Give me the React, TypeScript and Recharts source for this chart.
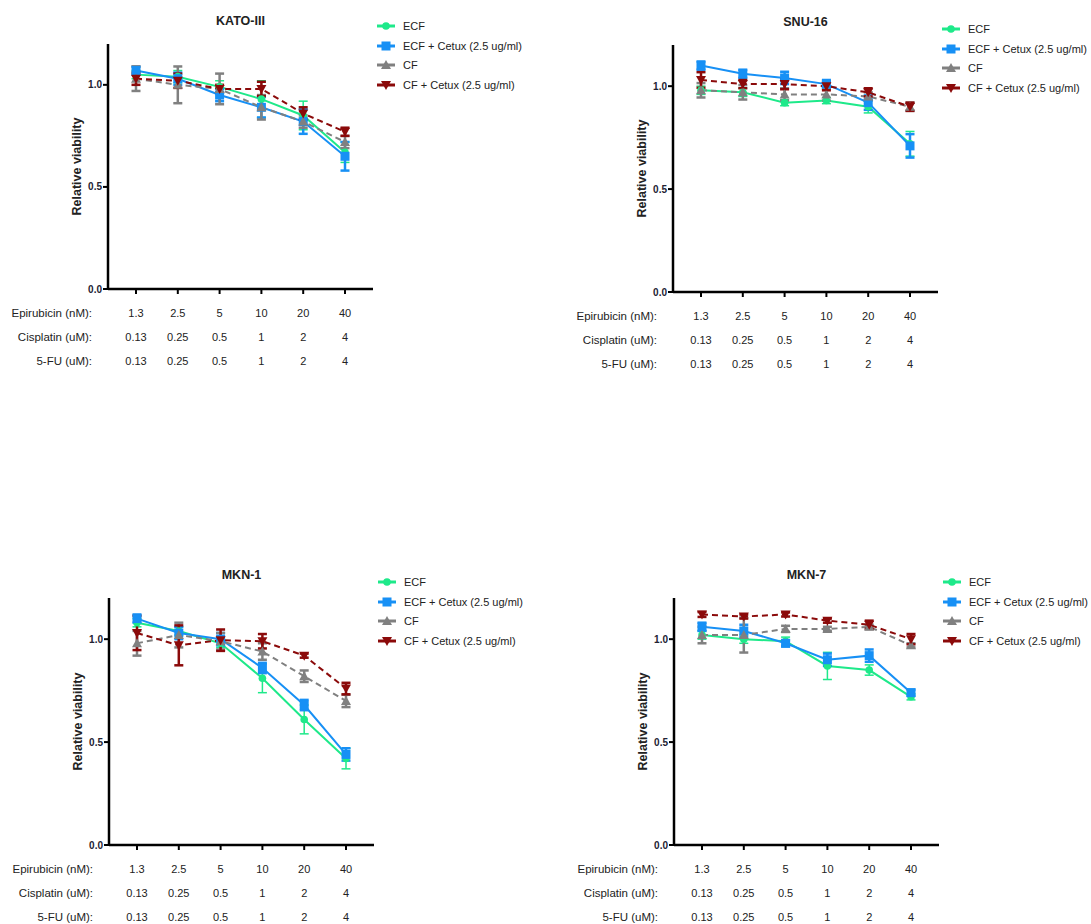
import React from "react";
import { LineChart, Line, XAxis, YAxis, ErrorBar } from "recharts";

// dose rows under each x-axis
const epirubicin = ["1.3", "2.5", "5", "10", "20", "40"];
const cisplatin = ["0.13", "0.25", "0.5", "1", "2", "4"];
const fluorouracil = ["0.13", "0.25", "0.5", "1", "2", "4"];
const rowLabels = ["Epirubicin (nM):", "Cisplatin (uM):", "5-FU (uM):"];

const seriesNames = ["ECF", "ECF + Cetux (2.5 ug/ml)", "CF", "CF + Cetux (2.5 ug/ml)"];

// KATO-III
const katoEcf = [1.05, 1.04, 0.99, 0.93, 0.85, 0.67];
const katoEcfErr = [0.02, 0.03, 0.03, 0.09, 0.07, 0.05];
const katoEcfCetux = [1.07, 1.03, 0.95, 0.89, 0.82, 0.65];
const katoEcfCetuxErr = [0.02, 0.03, 0.03, 0.05, 0.06, 0.07];
const katoCf = [1.03, 1.0, 0.98, 0.89, 0.82, 0.72];
const katoCfErr = [0.06, 0.09, 0.075, 0.06, 0.03, 0.03];
const katoCfCetux = [1.03, 1.02, 0.98, 0.98, 0.86, 0.77];
const katoCfCetuxErr = [0.03, 0.035, 0.02, 0.035, 0.03, 0.02];

// SNU-16
const snuEcf = [0.98, 0.97, 0.92, 0.93, 0.9, 0.72];
const snuEcfErr = [0.02, 0.02, 0.015, 0.015, 0.03, 0.06];
const snuEcfCetux = [1.1, 1.06, 1.04, 1.01, 0.92, 0.71];
const snuEcfCetuxErr = [0.02, 0.02, 0.03, 0.02, 0.035, 0.057];
const snuCf = [0.98, 0.97, 0.96, 0.96, 0.95, 0.9];
const snuCfErr = [0.035, 0.035, 0.03, 0.03, 0.02, 0.02];
const snuCfCetux = [1.03, 1.01, 1.01, 1.0, 0.97, 0.9];
const snuCfCetuxErr = [0.038, 0.02, 0.025, 0.02, 0.02, 0.02];

// MKN-1
const mkn1Ecf = [1.08, 1.04, 0.98, 0.81, 0.61, 0.42];
const mkn1EcfErr = [0.02, 0.02, 0.02, 0.07, 0.07, 0.05];
const mkn1EcfCetux = [1.1, 1.03, 1.0, 0.86, 0.68, 0.44];
const mkn1EcfCetuxErr = [0.02, 0.03, 0.03, 0.025, 0.025, 0.03];
const mkn1Cf = [0.98, 1.02, 0.99, 0.94, 0.82, 0.7];
const mkn1CfErr = [0.06, 0.06, 0.04, 0.04, 0.028, 0.03];
const mkn1CfCetux = [1.03, 0.97, 0.995, 0.99, 0.92, 0.76];
const mkn1CfCetuxErr = [0.083, 0.097, 0.052, 0.035, 0.01, 0.028];

// MKN-7
const mkn7Ecf = [1.02, 1.0, 0.99, 0.87, 0.85, 0.72];
const mkn7EcfErr = [0.02, 0.02, 0.02, 0.066, 0.025, 0.015];
const mkn7EcfCetux = [1.06, 1.04, 0.98, 0.9, 0.92, 0.74];
const mkn7EcfCetuxErr = [0.02, 0.03, 0.015, 0.03, 0.03, 0.015];
const mkn7Cf = [1.02, 1.02, 1.05, 1.05, 1.06, 0.97];
const mkn7CfErr = [0.04, 0.085, 0.015, 0.01, 0.01, 0.01];
const mkn7CfCetux = [1.12, 1.11, 1.12, 1.09, 1.07, 1.0];
const mkn7CfCetuxErr = [0.012, 0.01, 0.01, 0.01, 0.02, 0.025];

const FONT = '"Liberation Sans", Arial, sans-serif';
const GREEN = "#1ee98a";
const BLUE = "#1790f5";
const GRAY = "#808080";
const RED = "#8b0a0a";

type Shape = "circle" | "square" | "up" | "down";

const styles = [
  { key: "ecf", color: GREEN, shape: "circle" as Shape, dash: undefined, errW: 1.5 },
  { key: "ecfCetux", color: BLUE, shape: "square" as Shape, dash: undefined, errW: 2.5 },
  { key: "cf", color: GRAY, shape: "up" as Shape, dash: "6 4", errW: 2.5 },
  { key: "cfCetux", color: RED, shape: "down" as Shape, dash: "6 4", errW: 2.5 },
];

const buildRows = (series: number[][]) =>
  epirubicin.map((epi, i) => ({
    epi,
    ecf: series[0][i],
    ecfErr: series[1][i],
    ecfCetux: series[2][i],
    ecfCetuxErr: series[3][i],
    cf: series[4][i],
    cfErr: series[5][i],
    cfCetux: series[6][i],
    cfCetuxErr: series[7][i],
  }));

function Marker({ cx, cy, shape, color }: { cx: number; cy: number; shape: Shape; color: string }) {
  if (shape === "circle") return <circle cx={cx} cy={cy} r={3.8} fill={color} />;
  if (shape === "square") return <rect x={cx - 4.5} y={cy - 4.5} width={9} height={9} fill={color} />;
  if (shape === "up")
    return <path d={`M${cx},${cy - 5}L${cx + 5},${cy + 4}L${cx - 5},${cy + 4}Z`} fill={color} />;
  return <path d={`M${cx},${cy + 5}L${cx + 5},${cy - 4}L${cx - 5},${cy - 4}Z`} fill={color} />;
}

function DoseTick(props: any) {
  const { x, y, payload } = props;
  const i = epirubicin.indexOf(payload.value);
  const rows = [epirubicin[i], cisplatin[i], fluorouracil[i]];
  return (
    <g fontFamily={FONT} fontSize={11} fill="#222">
      {rows.map((t, r) => (
        <text key={r} x={x} y={y + 21 + r * 24} textAnchor="middle">
          {t}
        </text>
      ))}
      {i === 0 &&
        rowLabels.map((t, r) => (
          <text key={"l" + r} x={x - 44} y={y + 21 + r * 24} textAnchor="end" fontSize={11.5}>
            {t}
          </text>
        ))}
    </g>
  );
}

function Legend({ left, top }: { left: number; top: number }) {
  return (
    <div style={{ position: "absolute", left, top, fontFamily: FONT, fontSize: 11, color: "#222" }}>
      {styles.map((s, i) => (
        <div key={s.key} style={{ height: 19.7, display: "flex", alignItems: "center" }}>
          <svg width={24} height={12} style={{ marginRight: 3 }}>
            <line x1={1} y1={6} x2={19} y2={6} stroke={s.color} strokeWidth={3} />
            <Marker cx={10} cy={6} shape={s.shape} color={s.color} />
          </svg>
          <span>{seriesNames[i]}</span>
        </div>
      ))}
    </div>
  );
}

type PanelProps = {
  title: string;
  rows: ReturnType<typeof buildRows>;
  plotLeft: number;
  plotTop: number;
  plotHeight: number;
  legendTop: number;
};

function Panel({ title, rows, plotLeft, plotTop, plotHeight, legendTop }: PanelProps) {
  const plotWidth = 265;
  return (
    <>
      <div
        style={{
          position: "absolute",
          left: plotLeft,
          width: plotWidth,
          top: plotTop - 30,
          textAlign: "center",
          fontFamily: FONT,
          fontWeight: "bold",
          fontSize: 12.5,
          color: "#222",
        }}
      >
        {title}
      </div>
      <div style={{ position: "absolute", left: plotLeft - 108, top: plotTop - 44 }}>
        <LineChart
          width={560}
          height={44 + plotHeight + 91}
          data={rows}
          margin={{ top: 44, left: 68, right: 187, bottom: 11 }}
        >
          <XAxis
            dataKey="epi"
            padding={{ left: 28, right: 28 }}
            height={80}
            interval={0}
            tickSize={5}
            tickMargin={2}
            axisLine={{ stroke: "#000", strokeWidth: 2.5 }}
            tickLine={{ stroke: "#000", strokeWidth: 2 }}
            tick={(p: any) => <DoseTick {...p} />}
          />
          <YAxis
            domain={[0, 1.2]}
            ticks={[0, 0.5, 1]}
            width={40}
            tickSize={5}
            tickMargin={1}
            tickFormatter={(v: number) => v.toFixed(1)}
            axisLine={{ stroke: "#000", strokeWidth: 2.5 }}
            tickLine={{ stroke: "#000", strokeWidth: 2 }}
            tick={{ fontFamily: FONT, fontSize: 10, fontWeight: "bold", fill: "#223" }}
            label={{
              value: "Relative viability",
              angle: -90,
              position: "insideLeft",
              offset: 9,
              style: { textAnchor: "middle", fontFamily: FONT, fontSize: 12.5, fontWeight: "bold", fill: "#222" },
            }}
          />
          {styles.map((s) => (
            <Line
              key={s.key}
              dataKey={s.key}
              type="linear"
              stroke={s.color}
              strokeWidth={2}
              strokeDasharray={s.dash}
              isAnimationActive={false}
              dot={(p: any) => <Marker key={p.index} cx={p.cx} cy={p.cy} shape={s.shape} color={s.color} />}
              activeDot={false}
            >
              <ErrorBar dataKey={s.key + "Err"} direction="y" width={4.5} strokeWidth={s.errW} stroke={s.color} />
            </Line>
          ))}
        </LineChart>
      </div>
      <Legend left={plotLeft + plotWidth + 3} top={legendTop} />
    </>
  );
}

export default function App() {
  const kato = buildRows([katoEcf, katoEcfErr, katoEcfCetux, katoEcfCetuxErr, katoCf, katoCfErr, katoCfCetux, katoCfCetuxErr]);
  const snu = buildRows([snuEcf, snuEcfErr, snuEcfCetux, snuEcfCetuxErr, snuCf, snuCfErr, snuCfCetux, snuCfCetuxErr]);
  const mkn1 = buildRows([mkn1Ecf, mkn1EcfErr, mkn1EcfCetux, mkn1EcfCetuxErr, mkn1Cf, mkn1CfErr, mkn1CfCetux, mkn1CfCetuxErr]);
  const mkn7 = buildRows([mkn7Ecf, mkn7EcfErr, mkn7EcfCetux, mkn7EcfCetuxErr, mkn7Cf, mkn7CfErr, mkn7CfCetux, mkn7CfCetuxErr]);

  return (
    <div style={{ position: "absolute", left: 0, top: 0, width: 1091, height: 924, background: "#fff" }}>
      <Panel title="KATO-III" rows={kato} plotLeft={108} plotTop={44} plotHeight={245} legendTop={16} />
      <Panel title="SNU-16" rows={snu} plotLeft={673} plotTop={45} plotHeight={247} legendTop={19} />
      <Panel title="MKN-1" rows={mkn1} plotLeft={109} plotTop={598} plotHeight={247} legendTop={572} />
      <Panel title="MKN-7" rows={mkn7} plotLeft={674} plotTop={598} plotHeight={247} legendTop={572} />
    </div>
  );
}
